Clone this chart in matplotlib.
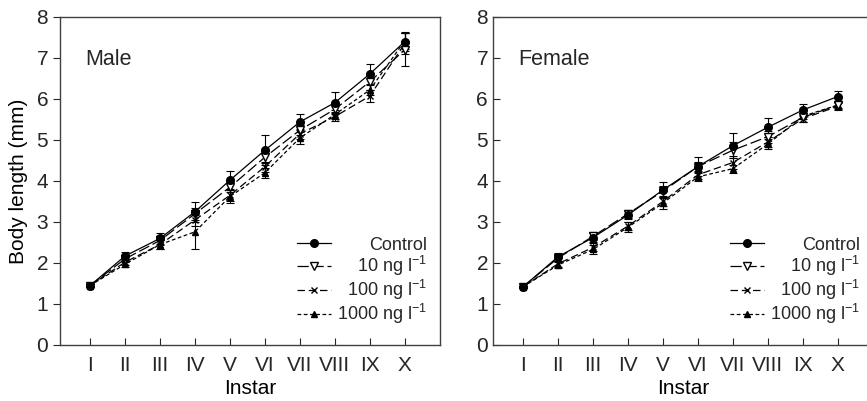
import matplotlib
matplotlib.use('Agg')
import matplotlib.pyplot as plt
import numpy as np

plt.rcParams['font.family'] = ['Liberation Sans', 'DejaVu Sans']
plt.rcParams['mathtext.fontset'] = 'custom'
plt.rcParams['mathtext.rm'] = 'Liberation Sans'
plt.rcParams['mathtext.it'] = 'Liberation Sans:italic'
plt.rcParams['text.color'] = '0.15'

instars = ['I', 'II', 'III', 'IV', 'V', 'VI', 'VII', 'VIII', 'IX', 'X']
labels = ['Control', '10 ng l$^{-1}$', '100 ng l$^{-1}$', '1000 ng l$^{-1}$']

# male body length (mm) and SD
male_ctrl = [1.45, 2.17, 2.60, 3.25, 4.02, 4.75, 5.44, 5.91, 6.61, 7.40]
male_ctrl_sd = [0.03, 0.10, 0.13, 0.24, 0.23, 0.37, 0.19, 0.26, 0.24, 0.24]
male_10 = [1.45, 2.10, 2.55, 3.20, 3.85, 4.58, 5.24, 5.75, 6.42, 7.20]
male_10_sd = [0.03, 0.08, 0.10, 0.15, 0.12, 0.15, 0.12, 0.12, 0.20, 0.40]
male_100 = [1.45, 2.02, 2.45, 3.05, 3.65, 4.35, 5.15, 5.57, 6.07, 7.35]
male_100_sd = [0.03, 0.08, 0.10, 0.15, 0.15, 0.12, 0.12, 0.10, 0.15, 0.25]
male_1000 = [1.45, 1.97, 2.45, 2.76, 3.62, 4.20, 5.05, 5.62, 6.22, 7.42]
male_1000_sd = [0.03, 0.08, 0.12, 0.42, 0.15, 0.12, 0.15, 0.10, 0.12, 0.20]

# female body length (mm) and SD
fem_ctrl = [1.42, 2.15, 2.62, 3.17, 3.78, 4.35, 4.86, 5.31, 5.73, 6.06]
fem_ctrl_sd = [0.03, 0.09, 0.10, 0.10, 0.20, 0.23, 0.31, 0.23, 0.15, 0.14]
fem_10 = [1.42, 2.12, 2.65, 3.20, 3.75, 4.35, 4.75, 5.08, 5.55, 5.85]
fem_10_sd = [0.03, 0.08, 0.10, 0.10, 0.12, 0.12, 0.20, 0.15, 0.10, 0.10]
fem_100 = [1.42, 1.98, 2.38, 2.90, 3.50, 4.15, 4.45, 4.95, 5.52, 5.82]
fem_100_sd = [0.03, 0.08, 0.10, 0.10, 0.12, 0.10, 0.15, 0.12, 0.08, 0.08]
fem_1000 = [1.42, 1.95, 2.33, 2.87, 3.46, 4.10, 4.30, 4.90, 5.58, 5.85]
fem_1000_sd = [0.03, 0.08, 0.10, 0.12, 0.15, 0.10, 0.10, 0.12, 0.08, 0.08]

x = np.arange(1, len(instars) + 1)

styles = [
    dict(marker='o', ms=5.5, mfc='k', ls='-'),
    dict(marker='v', ms=6, mfc='white', ls=(0, (9, 3))),
    dict(marker='x', ms=4.5, mew=1.0, mfc='k', ls=(0, (6, 3))),
    dict(marker='^', ms=5, mfc='k', ls=(0, (3, 2))),
]

fig = plt.figure(figsize=(8.67, 4.01), dpi=100)
ax1 = fig.add_axes([0.0692, 0.1397, 0.438, 0.818])
ax2 = fig.add_axes([0.5686, 0.1397, 0.438, 0.818])

panels = [
    (ax1, 'Male', [(male_ctrl, male_ctrl_sd), (male_10, male_10_sd),
                   (male_100, male_100_sd), (male_1000, male_1000_sd)]),
    (ax2, 'Female', [(fem_ctrl, fem_ctrl_sd), (fem_10, fem_10_sd),
                     (fem_100, fem_100_sd), (fem_1000, fem_1000_sd)]),
]

for ax, name, series in panels:
    handles = []
    for (y, sd), st, lab in zip(series[::-1], styles[::-1], labels[::-1]):
        ax.errorbar(x, y, yerr=sd, fmt='none', ecolor='k', elinewidth=0.8,
                    capsize=3, capthick=0.8, zorder=2)
        h, = ax.plot(x, y, color='k', lw=0.9, mec='k', label=lab, zorder=3, **st)
        handles.append(h)
    handles = handles[::-1]
    ax.set_xlim(0.14, 11)
    ax.set_ylim(0, 8)
    ax.set_xticks(x)
    ax.set_xticklabels(instars)
    ax.set_yticks(range(0, 9))
    ax.tick_params(axis='both', labelsize=15, colors='0.15', length=5, width=0.8)
    ax.tick_params(axis='x', direction='in', pad=8)
    for sp in ax.spines.values():
        sp.set_linewidth(1.0)
        sp.set_color('0.25')
    ax.set_xlabel('Instar', fontsize=15, labelpad=3)
    ax.text(0.066, 0.87, name, transform=ax.transAxes, fontsize=15.5, va='center')
    leg = ax.legend(handles, labels, loc='lower right', bbox_to_anchor=(0.99, 0.03),
                    frameon=False, fontsize=13, handlelength=1.9, handletextpad=0.3,
                    labelspacing=0.0, borderpad=0.0)
    # right-align the legend labels
    fig.canvas.draw()
    renderer = fig.canvas.get_renderer()
    widths = [t.get_window_extent(renderer).width for t in leg.get_texts()]
    shift = max(widths)
    for t, w in zip(leg.get_texts(), widths):
        t.set_position((shift - w, 0))

ax1.tick_params(axis='y', direction='out')
ax2.tick_params(axis='y', direction='in')
ax1.set_ylabel('Body length (mm)', fontsize=15, labelpad=6)

fig.savefig('out.png', dpi=100)
